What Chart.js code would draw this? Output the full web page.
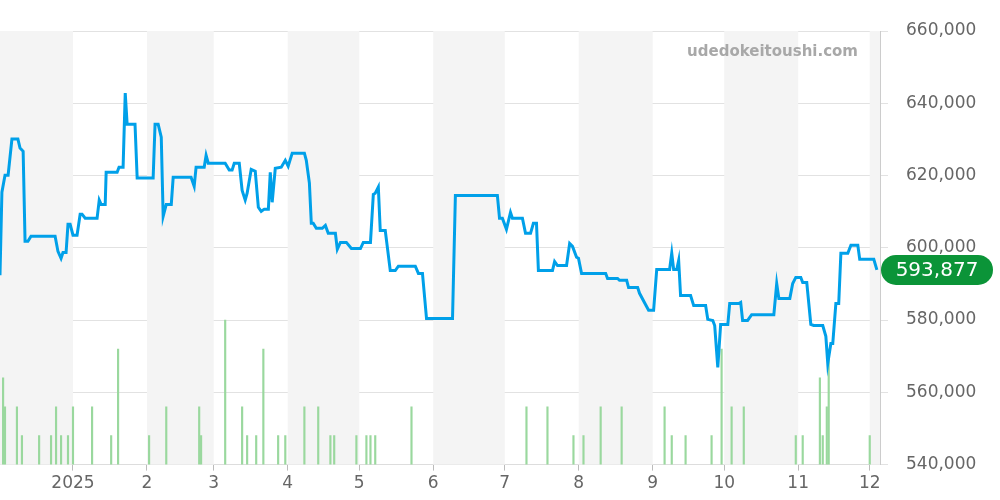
<!DOCTYPE html>
<html>
<head>
<meta charset="utf-8">
<script src="https://cdn.jsdelivr.net/npm/chart.js@4/dist/chart.umd.min.js"></script>
<style>
  html, body { margin: 0; padding: 0; background: #fff; }
  #wrap { width: 1000px; height: 500px; }
</style>
</head>
<body>
<div id="wrap"><canvas id="priceChart"></canvas></div>
<script>
// x = days since 2024-12-01
const priceDays = [0.4,1.2,2.5,3.8,5.4,7.9,8.8,10.1,10.9,12.1,13.4,23.5,24.7,26.0,26.8,28.1,28.9,29.8,31.0,32.7,34.0,34.8,36.1,41.1,42.0,42.8,44.5,44.9,49.5,50.3,52.0,52.9,53.7,57.0,57.9,64.6,65.4,66.7,68.0,68.8,70.1,72.2,73.0,80.5,81.8,82.6,86.0,86.8,87.7,94.8,96.5,97.7,98.6,100.7,101.9,103.2,104.0,105.7,107.4,108.7,109.9,111.2,112.9,113.7,114.5,115.8,118.3,120.0,121.2,122.9,128.0,128.8,130.1,130.9,131.7,133.0,135.5,136.8,138.0,141.0,141.8,143.1,145.6,147.7,151.5,152.7,155.7,156.9,157.7,159.0,159.8,161.9,164.0,166.1,167.4,174.5,175.8,177.5,179.2,190.1,191.3,208.9,209.8,211.0,212.7,214.4,215.2,219.4,220.7,222.8,224.0,225.3,226.1,232.0,232.9,234.1,237.9,239.2,240.4,242.1,242.9,244.2,254.3,255.1,259.3,260.1,263.1,263.9,267.7,268.5,271.0,272.3,274.4,275.7,281.1,282.0,282.8,284.1,284.9,285.7,289.9,291.2,296.2,297.1,299.2,300.0,301.3,302.5,305.5,306.3,310.1,310.9,311.7,313.8,315.5,324.8,326.0,326.9,331.5,332.7,334.0,336.1,336.9,338.6,340.3,341.5,345.3,346.6,347.4,348.7,349.5,350.8,352.0,352.9,355.8,357.1,360.0,360.8,366.7,368.0];
const priceValues = [592400,615400,620100,620100,630100,630100,627600,626700,601800,601800,603200,603200,599000,597100,598700,598700,606500,606500,603500,603500,609300,609300,608200,608200,613200,612000,612000,620900,620900,622300,622300,642800,634200,634200,619300,619300,634200,634200,630600,608700,612000,612000,619500,619500,617000,622300,622300,625600,623400,623400,621500,621500,623400,623400,615900,613200,615100,621700,621200,611200,610100,610700,610700,620900,612600,622000,622300,624200,622600,626200,626200,624200,617900,606800,606800,605400,605400,606200,604000,604000,599600,601500,601500,599800,599800,601500,601500,614800,615100,616800,604800,604800,593700,593700,594900,594900,592900,592900,580400,580400,614500,614500,608200,608200,605100,609800,608200,608200,604000,604000,606800,606800,593700,593700,596200,595100,595100,601200,600400,597400,597100,592900,592900,591500,591500,591000,591000,589000,589000,587400,584300,582700,582700,594000,594000,598500,594000,594000,596500,586800,586800,584000,584000,580200,579900,578500,566900,578800,578800,584600,584600,584900,579900,579900,581500,581500,590100,586000,586000,590100,591800,591800,590400,590400,578800,578500,578500,575500,568000,573500,573500,584600,584600,598500,598500,600700,600700,596800,596800,593877];
const volumeDays = [1.7,2.5,7.5,9.6,16.8,21.8,23.9,26.0,28.9,31.0,39.0,47.0,49.9,62.9,70.1,83.9,84.7,94.8,101.9,104.0,107.8,110.8,117.0,120.0,128.0,133.8,138.9,140.5,149.8,154.0,155.7,157.7,172.9,221.1,229.9,240.8,245.0,252.2,261.0,279.0,282.0,287.8,298.7,302.9,307.1,312.2,334.0,336.9,344.1,345.3,347.0,347.8,365.0];
const volumeCounts = [3,2,2,1,1,1,2,1,1,2,2,1,4,1,2,2,1,5,2,1,1,4,1,1,2,2,1,1,1,1,1,1,2,2,2,1,1,2,2,2,1,1,1,4,2,2,1,1,3,1,2,4,1];
const monthTicks = [31,62,90,121,151,182,212,243,274,304,335,365];
const monthLabels = ['2025','2','3','4','5','6','7','8','9','10','11','12'];
const latestLabel = '593,877';

const xMin = 0.4, xMax = 369.3;

const monthBands = {
  id: 'monthBands',
  beforeDatasetsDraw(chart) {
    const { ctx, chartArea, scales } = chart;
    const edges = [xMin].concat(monthTicks, [xMax]);
    ctx.save();
    ctx.fillStyle = '#f4f4f4';
    for (let i = 0; i < edges.length - 1; i += 2) {
      const a = scales.x.getPixelForValue(edges[i]);
      const b = scales.x.getPixelForValue(edges[i + 1]);
      ctx.fillRect(a, chartArea.top, b - a, chartArea.bottom - chartArea.top);
    }
    ctx.restore();
  }
};

const extras = {
  id: 'extras',
  afterDraw(chart) {
    const { ctx, chartArea, scales } = chart;
    ctx.save();
    ctx.font = 'bold 15px "DejaVu Sans"';
    ctx.fillStyle = '#a8a8a8';
    ctx.textAlign = 'right';
    ctx.textBaseline = 'middle';
    ctx.fillText('udedokeitoushi.com', chartArea.right - 22, 52);
    // latest value badge
    const y = scales.y.getPixelForValue(priceValues[priceValues.length - 1]);
    const x = chartArea.right + 1, w = 112, h = 30;
    ctx.fillStyle = '#0b9438';
    ctx.beginPath();
    ctx.roundRect(x, y - h / 2, w, h, 15);
    ctx.fill();
    ctx.fillStyle = '#fff';
    ctx.textAlign = 'center';
    ctx.font = '20px "DejaVu Sans"';
    ctx.fillText(latestLabel, x + w / 2, y + 1);
    ctx.restore();
  }
};

new Chart(document.getElementById('priceChart'), {
  data: {
    datasets: [{
      type: 'line',
      data: priceDays.map((d, i) => ({ x: d, y: priceValues[i] })),
      borderColor: '#00a0e9',
      borderWidth: 3,
      pointRadius: 0,
      tension: 0,
      yAxisID: 'y',
      order: 1
    }, {
      type: 'bar',
      data: volumeDays.map((d, i) => ({ x: d, y: volumeCounts[i] })),
      backgroundColor: '#9ad89e',
      barThickness: 1.5,
      yAxisID: 'y1',
      order: 2
    }]
  },
  options: {
    responsive: true,
    maintainAspectRatio: false,
    animation: false,
    layout: { padding: { top: 31, left: 0, right: 0, bottom: 3 } },
    plugins: { legend: { display: false }, tooltip: { enabled: false } },
    scales: {
      x: {
        type: 'linear',
        min: xMin,
        max: xMax,
        offset: false,
        afterBuildTicks(scale) { scale.ticks = monthTicks.map(v => ({ value: v })); },
        ticks: {
          autoSkip: false,
          maxRotation: 0,
          color: '#666',
          font: { size: 17, family: 'DejaVu Sans' },
          callback(v) { return monthLabels[monthTicks.indexOf(v)]; }
        },
        grid: { display: true, offset: false, drawOnChartArea: false, drawTicks: true, tickLength: 6, color: '#bbb' },
        border: { color: '#ddd' }
      },
      y: {
        position: 'right',
        min: 540000,
        max: 660000,
        ticks: {
          stepSize: 20000,
          color: '#666',
          padding: 18,
          font: { size: 17, family: 'DejaVu Sans' },
          callback(v) { return v.toLocaleString('en-US'); }
        },
        grid: { color: '#e2e2e2', tickLength: 8 },
        border: { color: '#ccc' },
        afterFit(scale) { scale.width = 120; }
      },
      y1: {
        display: false,
        min: 0,
        max: 15
      }
    }
  },
  plugins: [monthBands, extras]
});
</script>
</body>
</html>
